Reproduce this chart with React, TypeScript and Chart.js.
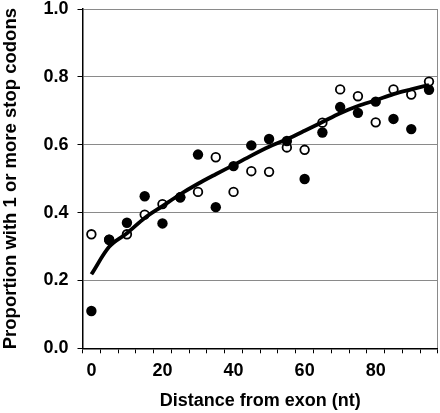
import React, { useEffect, useRef } from "react";
import { Chart, registerables } from "chart.js";

Chart.register(...registerables);

const distances = [0, 5, 10, 15, 20, 25, 30, 35, 40, 45, 50, 55, 60, 65, 70, 75, 80, 85, 90, 95];
const filledValues = [0.11, 0.32, 0.37, 0.448, 0.368, 0.445, 0.571, 0.416, 0.537, 0.598, 0.617, 0.611, 0.499, 0.636, 0.711, 0.694, 0.727, 0.676, 0.646, 0.762];
const openValues = [0.336, 0.32, 0.336, 0.394, 0.425, 0.445, 0.461, 0.563, 0.461, 0.522, 0.52, 0.592, 0.585, 0.665, 0.763, 0.743, 0.666, 0.763, 0.748, 0.786];
const fitValues = [0.218, 0.299, 0.339, 0.384, 0.419, 0.454, 0.485, 0.513, 0.54, 0.568, 0.594, 0.616, 0.641, 0.667, 0.693, 0.714, 0.731, 0.749, 0.763, 0.776];
const xTickLabels = [0, 20, 40, 60, 80];
const yTickValues = [0, 0.2, 0.4, 0.6, 0.8, 1.0];

const FONT = "'Liberation Sans', Arial, Helvetica, sans-serif";

export default function App() {
  const ref = useRef<HTMLCanvasElement>(null);
  useEffect(() => {
    const canvas = ref.current;
    if (!canvas) return;
    Chart.defaults.font.family = FONT;
    const chart = new Chart(canvas, {
      type: "scatter",
      data: {
        datasets: [
          {
            type: "line",
            label: "fit",
            data: distances.map((x, i) => ({ x, y: fitValues[i] })),
            borderColor: "#000",
            borderWidth: 3.8,
            pointRadius: 0,
            cubicInterpolationMode: "monotone",
            fill: false,
            order: 0,
          } as any,
          {
            label: "filled",
            data: distances.map((x, i) => ({ x, y: filledValues[i] })),
            backgroundColor: "#000",
            borderColor: "#000",
            borderWidth: 0,
            pointRadius: 5.2,
            order: 1,
          },
          {
            label: "open",
            data: distances.map((x, i) => ({ x, y: openValues[i] })),
            backgroundColor: "#fff",
            borderColor: "#000",
            borderWidth: 1.8,
            pointRadius: 4.3,
            order: 2,
          },
        ],
      },
      options: {
        animation: false,
        responsive: false,
        maintainAspectRatio: false,
        layout: { padding: 0 },
        plugins: { legend: { display: false }, tooltip: { enabled: false } },
        scales: {
          x: {
            type: "linear",
            min: -2.5,
            max: 97.5,
            afterBuildTicks: (scale: any) => {
              const t = [];
              for (let k = 0; k <= 40; k++) t.push({ value: -2.5 + 2.5 * k });
              scale.ticks = t;
            },
            afterFit: (scale: any) => {
              scale.height = 64.7;
              scale.paddingRight = -1;
              scale.paddingLeft = 0;
            },
            ticks: {
              autoSkip: false,
              maxRotation: 0,
              minRotation: 0,
              color: "#000",
              padding: 7,
              font: { size: 18, weight: "bold", family: FONT },
              callback: (v: any) => (xTickLabels.includes(Number(v)) ? String(v) : ""),
            },
            grid: {
              drawOnChartArea: true,
              color: (ctx: any) => (ctx.tick && ctx.tick.value === 97.5 ? "#8a8a8a" : "rgba(0,0,0,0)"),
              tickColor: (ctx: any) =>
                ctx.tick && (ctx.tick.value + 2.5) % 5 === 0 ? "#000" : "rgba(0,0,0,0)",
              tickLength: 5,
              lineWidth: 1,
            },
            border: { color: "#000", width: 1.5 },
            title: {
              display: true,
              text: "Distance from exon (nt)",
              color: "#000",
              font: { size: 18, weight: "bold", family: FONT },
              padding: { top: 0, bottom: 1 },
            },
          },
          y: {
            min: 0,
            max: 1,
            afterBuildTicks: (scale: any) => {
              scale.ticks = yTickValues.map((value) => ({ value }));
            },
            afterFit: (scale: any) => {
              scale.width = 82.5;
              scale.paddingTop = 9;
              scale.paddingBottom = 0;
              scale.paddingLeft = 0;
              scale.paddingRight = 0;
            },
            ticks: {
              color: "#000",
              padding: 9,
              font: { size: 18, weight: "bold", family: FONT, lineHeight: 1 },
              callback: (v: any) => Number(v).toFixed(1),
            },
            grid: {
              color: (ctx: any) => (ctx.tick && ctx.tick.value === 0 ? "rgba(0,0,0,0)" : "#8a8a8a"),
              tickColor: "#000",
              tickLength: 5,
              lineWidth: 1,
            },
            border: { color: "#000", width: 1.5 },
            title: {
              display: true,
              text: "Proportion with 1 or more stop codons",
              color: "#000",
              font: { size: 18.5, weight: "bold", family: FONT },
              padding: { top: 0, bottom: 0 },
            },
          },
        },
      },
    });
    return () => chart.destroy();
  }, []);
  return (
    <div style={{ position: "fixed", left: 0, top: 0, width: 440, height: 413, overflow: "hidden", background: "#fff" }}>
      <canvas ref={ref} width={444} height={413} style={{ display: "block" }} />
    </div>
  );
}
